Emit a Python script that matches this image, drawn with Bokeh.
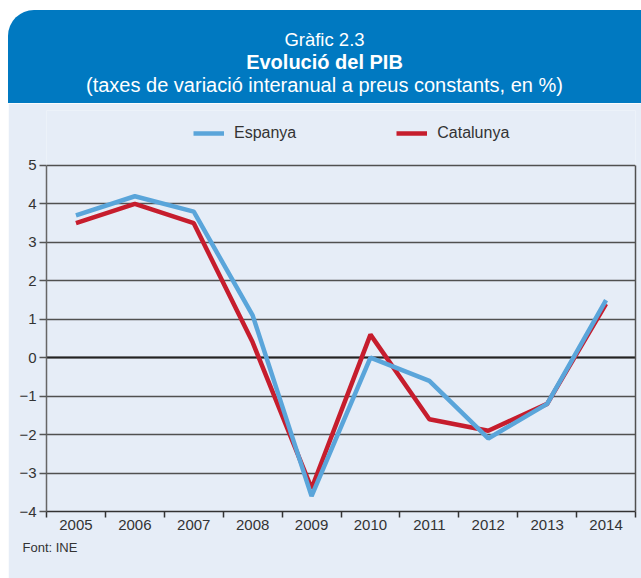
from bokeh.plotting import figure
from bokeh.models import (Range1d, FixedTicker, Legend, LegendItem, Title, LinearAxis,
                          ColumnDataSource, Spacer, Div)
from bokeh.layouts import row, column
from bokeh.embed import file_html
from bokeh.resources import INLINE

years = [2005, 2006, 2007, 2008, 2009, 2010, 2011, 2012, 2013, 2014]
espanya = [3.7, 4.2, 3.8, 1.1, -3.6, 0.0, -0.6, -2.1, -1.2, 1.5]
catalunya = [3.5, 4.0, 3.5, 0.4, -3.4, 0.6, -1.6, -1.9, -1.2, 1.4]
y_ticks = [-4, -3, -2, -1, 0, 1, 2, 3, 4, 5]
year_labels = {y: str(y) for y in years}

title1 = "Gràfic 2.3"
title2 = "Evolució del PIB"
title3 = "(taxes de variació interanual a preus constants, en %)"
source_note = "Font: INE"

FONT = "'Liberation Sans', Arial, sans-serif"
HEADER = "#0079C1"
BG = "#E6EDF7"
BLUE = "#5AA5DA"
RED = "#C61D2D"
GRID = "#505050"
TXT = "#333333"

W = 633
Y_TOP = 6.43  # extra headroom inside the frame that holds the legend

# ---------- header (HTML block with rounded corner) ----------
line_css = ("position:absolute;left:0;width:100%;text-align:center;"
            "line-height:24px;height:24px;white-space:nowrap;")
hdr_html = (
    f'<div style="position:relative;width:{W}px;height:93px;background:{HEADER};'
    f'border-top-left-radius:26px;color:white;font-family:{FONT};">'
    f'<div style="{line_css}top:18px;font-size:18.5px;font-weight:normal;">{title1}</div>'
    f'<div style="{line_css}top:40px;font-size:20px;font-weight:bold;">{title2}</div>'
    f'<div style="{line_css}top:63px;font-size:20px;font-weight:normal;">{title3}</div>'
    '</div>'
)
hdr = Div(text=hdr_html, width=W, height=93, margin=(10, 0, 0, 0))

# ---------- main chart ----------
p = figure(width=W, height=475, output_backend="svg", toolbar_location=None,
           x_range=Range1d(years[0] - 0.5, years[-1] + 0.5),
           y_range=Range1d(y_ticks[0], Y_TOP),
           min_border_left=38, min_border_right=6, min_border_top=7,
           min_border_bottom=67)
p.border_fill_color = BG
p.background_fill_color = BG
p.outline_line_color = None

p.xaxis.ticker = FixedTicker(ticks=years,
                             minor_ticks=[y - 0.5 for y in years] + [years[-1] + 0.5])
p.xaxis.major_label_overrides = year_labels
p.xaxis.major_tick_line_color = None
p.xaxis.minor_tick_line_color = TXT
p.xaxis.minor_tick_line_width = 1.5
p.xaxis.minor_tick_in = 0
p.xaxis.minor_tick_out = 6
p.xaxis.axis_line_color = TXT
p.xaxis.axis_line_width = 1.5
p.xaxis.major_label_text_font = FONT
p.xaxis.major_label_text_font_size = "15px"
p.xaxis.major_label_text_color = TXT
p.xaxis.major_label_standoff = 2

p.yaxis.ticker = FixedTicker(ticks=y_ticks)
p.yaxis.bounds = (y_ticks[0], y_ticks[-1])
p.yaxis.major_label_overrides = {t: (str(t) if t >= 0 else "\u2212" + str(-t)) for t in y_ticks}
p.yaxis.minor_tick_line_color = None
p.yaxis.major_tick_line_color = "#555555"
p.yaxis.major_tick_line_width = 1.5
p.yaxis.major_tick_in = 0
p.yaxis.major_tick_out = 7
p.yaxis.axis_line_color = "#666666"
p.yaxis.axis_line_width = 1.5
p.yaxis.major_label_text_font = FONT
p.yaxis.major_label_text_font_size = "15px"
p.yaxis.major_label_text_color = TXT
p.yaxis.major_label_standoff = 3

# right border of the plot area
right_axis = LinearAxis(ticker=FixedTicker(ticks=[]), bounds=(y_ticks[0], y_ticks[-1]),
                        axis_line_color=GRID, axis_line_width=1.5,
                        major_tick_line_color=None, minor_tick_line_color=None,
                        major_label_text_alpha=0)
p.add_layout(right_axis, "right")

p.xgrid.grid_line_color = None
p.ygrid.ticker = FixedTicker(ticks=y_ticks)
p.ygrid.grid_line_color = GRID
p.ygrid.grid_line_width = 1.5

p.hspan(y=[0], line_color="#222222", line_width=2.2)

src = ColumnDataSource(dict(year=years, esp=espanya, cat=catalunya))
r_cat = p.line("year", "cat", source=src, line_color=RED, line_width=4.5)
r_esp = p.line("year", "esp", source=src, line_color=BLUE, line_width=4.5)

legend = Legend(items=[LegendItem(label="Espanya", renderers=[r_esp]),
                       LegendItem(label="Catalunya", renderers=[r_cat])],
                location=(147, 368), orientation="horizontal",
                glyph_width=31, glyph_height=20, label_height=20,
                label_standoff=10, spacing=100, padding=0, margin=0,
                background_fill_alpha=0, border_line_color=None,
                label_text_font=FONT, label_text_font_size="16px",
                label_text_color=TXT)
p.add_layout(legend, "center")

p.add_layout(Title(text=source_note, align="left", offset=-24, padding=(0, 5, 0, 0),
                   text_font=FONT, text_font_size="13px", text_font_style="normal",
                   text_color=TXT), "below")

layout = row(Spacer(width=8, height=578), column(hdr, p, spacing=0), spacing=0)

open("out.html", "w").write(file_html(layout, INLINE))
